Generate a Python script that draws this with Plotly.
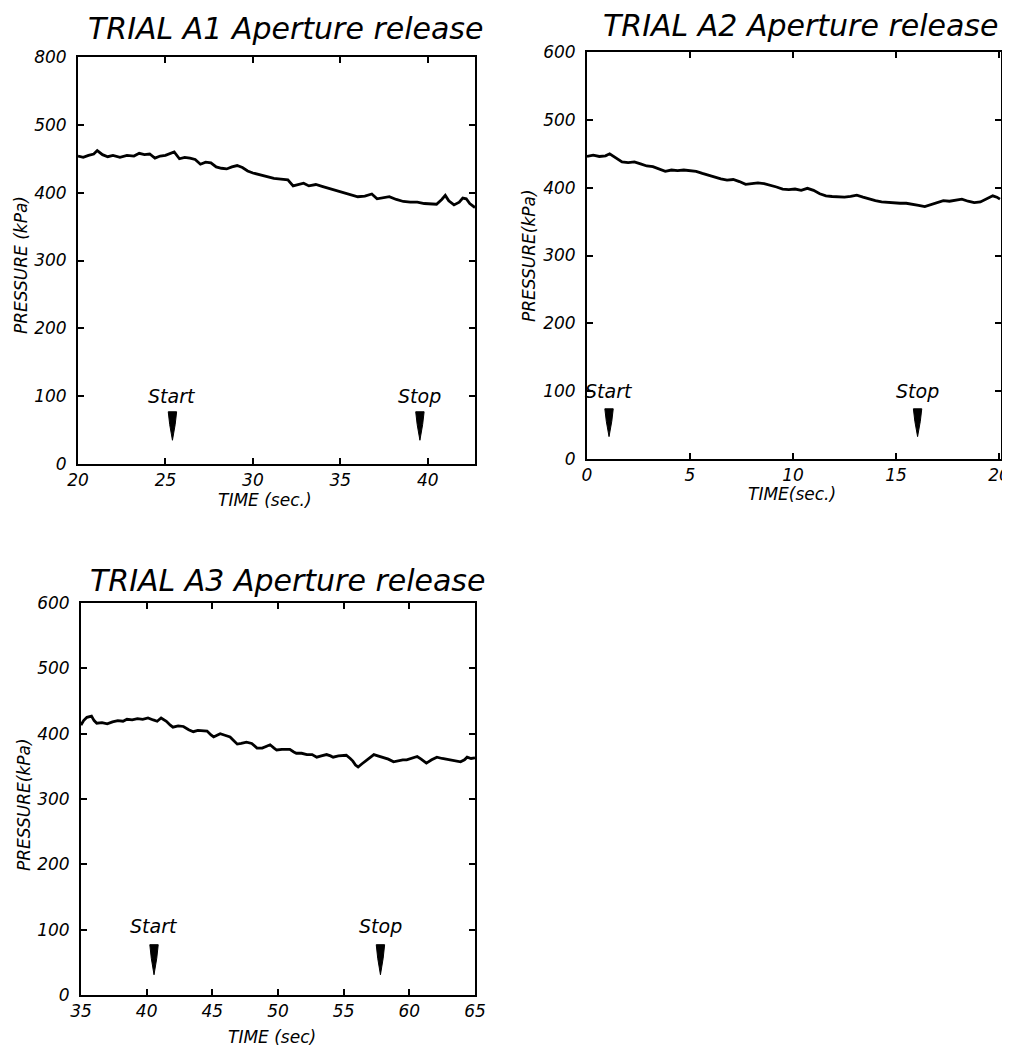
import plotly.graph_objects as go

# ---------------- data ----------------
a1_time = [20.0, 20.3, 20.6, 20.9, 21.1, 21.4, 21.7, 22.0, 22.4, 22.8, 23.2, 23.5, 23.8, 24.1, 24.4, 24.7,
           25.0, 25.3, 25.5, 25.8, 26.1, 26.4, 26.7, 27.0, 27.3, 27.6, 27.9, 28.2, 28.5, 28.8, 29.1, 29.4,
           29.7, 30.0, 30.4, 30.8, 31.2, 31.6, 32.0, 32.3, 32.6, 32.9, 33.2, 33.6, 34.0, 34.4, 34.8, 35.2,
           35.6, 36.0, 36.4, 36.8, 37.1, 37.4, 37.8, 38.2, 38.6, 39.0, 39.4, 39.8, 40.2, 40.5, 40.8, 41.0,
           41.2, 41.5, 41.8, 42.0, 42.2, 42.4, 42.7]
a1_pressure = [454, 452, 455, 457, 462, 456, 453, 455, 452, 455, 454, 458, 456, 457, 451, 454,
               455, 458, 460, 450, 452, 451, 449, 442, 445, 444, 438, 436, 435, 438, 440, 437,
               432, 429, 426, 424, 421, 420, 419, 410, 412, 414, 410, 412, 409, 406, 402, 400,
               397, 394, 395, 398, 391, 392, 394, 390, 387, 386, 386, 384, 384, 383, 390, 396,
               388, 382, 386, 392, 391, 384, 378]

a2_time = [0.0, 0.3, 0.6, 0.9, 1.1, 1.4, 1.7, 2.0, 2.3, 2.6, 2.9, 3.2, 3.5, 3.8, 4.1, 4.4, 4.7, 5.0,
           5.3, 5.6, 5.9, 6.2, 6.5, 6.8, 7.1, 7.4, 7.7, 8.0, 8.3, 8.6, 8.9, 9.2, 9.5, 9.8, 10.1, 10.4,
           10.7, 11.0, 11.3, 11.6, 11.9, 12.2, 12.5, 12.8, 13.1, 13.4, 13.7, 14.0, 14.3, 14.6, 14.9,
           15.2, 15.5, 15.8, 16.1, 16.4, 16.7, 17.0, 17.3, 17.6, 17.9, 18.2, 18.5, 18.8, 19.1, 19.4,
           19.7, 19.9, 20.05]
a2_pressure = [446, 448, 446, 447, 450, 444, 438, 437, 438, 435, 432, 431, 428, 424, 426, 425, 426, 425,
               424, 421, 418, 416, 413, 411, 412, 409, 405, 406, 407, 406, 404, 401, 398, 397, 398, 396,
               399, 396, 391, 388, 387, 386, 386, 387, 389, 386, 383, 381, 379, 378, 378,
               377, 377, 376, 374, 372, 375, 379, 381, 380, 381, 383, 380, 378, 379, 383,
               388, 386, 383]

a3_time = [35.0, 35.2, 35.45, 35.8, 36.0, 36.2, 36.6, 37.0, 37.4, 37.8, 38.2, 38.5, 38.9, 39.3, 39.7,
           40.1, 40.5, 40.8, 41.1, 41.5, 41.8, 42.0, 42.4, 42.8, 43.2, 43.55, 43.9, 44.3, 44.6, 44.9,
           45.1, 45.4, 45.6, 45.9, 46.35, 46.6, 46.9, 47.2, 47.6, 48.0, 48.4, 48.8, 49.1, 49.4, 49.7,
           49.9, 50.3, 50.6, 50.9, 51.2, 51.4, 51.8, 52.2, 52.6, 52.95, 53.3, 53.7, 54.0, 54.2, 54.6,
           55.0, 55.2, 55.5, 55.7, 55.9, 56.1, 56.4, 56.75, 57.0, 57.3, 57.6, 58.0, 58.4, 58.8, 59.2,
           59.5, 59.8, 60.2, 60.6, 60.9, 61.3, 61.7, 62.1, 62.5, 62.8, 63.1, 63.5, 63.9, 64.2, 64.4,
           64.7, 65.0]
a3_pressure = [413, 420, 425, 427, 420, 416, 417, 415, 418, 420, 419, 422, 421, 423, 422,
               424, 421, 419, 424, 419, 413, 410, 412, 411, 406, 403, 405, 404, 404, 398,
               395, 398, 400, 398, 395, 390, 384, 385, 387, 385, 378, 378, 380, 383, 378,
               375, 376, 376, 376, 372, 370, 370, 368, 368, 364, 366, 368, 366, 364, 366,
               366, 367, 362, 358, 352, 349, 354, 360, 364, 368, 366, 364, 361, 357, 359,
               360, 360, 363, 365, 361, 355, 360, 364, 362, 361, 360, 359, 357, 360, 364,
               362, 363]

a1_event_time = [25.4, 39.55]
a2_event_time = [1.07, 16.05]
a3_event_time = [40.56, 57.8]
event_labels = ["Start", "Stop"]

a1_xticks = [20, 25, 30, 35, 40]
a2_xticks = [0, 5, 10, 15, 20]
a3_xticks = [35, 40, 45, 50, 55, 60, 65]
y_tickvals = [0, 100, 200, 300, 400, 500, 600]
a1_ytext = ["0", "100", "200", "300", "400", "500", "800"]
a23_ytext = ["0", "100", "200", "300", "400", "500", "600"]

titles = ["TRIAL A1 Aperture release", "TRIAL A2 Aperture release", "TRIAL A3 Aperture release"]
xtitles = ["TIME (sec.)", "TIME(sec.)", "TIME (sec)"]
ytitles = ["PRESSURE (kPa)", "PRESSURE(kPa)", "PRESSURE(kPa)"]

# ---------------- layout helpers ----------------
W, H = 1010, 1063
OFF = 8  # page body margin in the browser
FONT = "DejaVu Sans"

def px(x):
    return (x - OFF) / W

def py(y):
    return 1 - (y - OFF) / H

panels = [
    dict(t=a1_time, p=a1_pressure, ev=a1_event_time, xr=[20, 42.7], xt=a1_xticks, yt=a1_ytext,
         box=(78, 475, 57, 464), title_xy=(285, 28), xtitle_xy=(265, 500), ytitle_xy=(21, 265),
         label_y=100, arrow=(77, 35)),
    dict(t=a2_time, p=a2_pressure, ev=a2_event_time, xr=[0, 20.1], xt=a2_xticks, yt=a23_ytext,
         box=(587, 1001, 52, 459), title_xy=(800, 26), xtitle_xy=(792, 494), ytitle_xy=(529, 256),
         label_y=100, arrow=(74, 33)),
    dict(t=a3_time, p=a3_pressure, ev=a3_event_time, xr=[35, 65], xt=a3_xticks, yt=a23_ytext,
         box=(81, 475, 603, 995), title_xy=(287, 580), xtitle_xy=(272, 1037), ytitle_xy=(24, 805),
         label_y=106, arrow=(77, 31)),
]

fig = go.Figure()
annotations = []

for i, pn in enumerate(panels, start=1):
    xa = "x" if i == 1 else f"x{i}"
    ya = "y" if i == 1 else f"y{i}"
    l, r, t, b = pn["box"]
    fig.add_trace(go.Scatter(x=pn["t"], y=pn["p"], mode="lines", xaxis=xa, yaxis=ya,
                             line=dict(color="black", width=2.8), showlegend=False, hoverinfo="skip"))
    # start / stop wedges
    span = pn["xr"][1] - pn["xr"][0]
    w = 4.2 * span / (r - l)
    top, tip = pn["arrow"]
    mid = top - 0.45 * (top - tip)
    for et, lab in zip(pn["ev"], event_labels):
        fig.add_trace(go.Scatter(
            x=[et - w, et + w, et + 0.65 * w, et, et - 0.65 * w, et - w],
            y=[top, top, mid, tip, mid, top],
            mode="lines", fill="toself", fillcolor="black", line=dict(color="black", width=1),
            xaxis=xa, yaxis=ya, showlegend=False, hoverinfo="skip"))
        annotations.append(dict(x=et, y=pn["label_y"], xref=xa, yref=ya, text=lab, showarrow=False,
                                font=dict(family=FONT, size=19, color="black", style="italic"),
                                xanchor="center", yanchor="middle"))
    axis_common = dict(showline=True, linecolor="black", linewidth=2, mirror="ticks", ticks="inside",
                       ticklen=6, tickwidth=1.5, tickcolor="black", showgrid=False, zeroline=False)
    tf = dict(family=FONT, size=17, color="black", style="italic")
    fig.update_layout(**{
        ("xaxis" if i == 1 else f"xaxis{i}"): dict(domain=[px(l), px(r)], range=pn["xr"],
                                                    tickvals=pn["xt"], anchor=ya, tickfont=tf,
                                                    ticklabelstandoff=0, **axis_common),
        ("yaxis" if i == 1 else f"yaxis{i}"): dict(domain=[py(b), py(t)], range=[0, 600],
                                                    tickvals=y_tickvals, ticktext=pn["yt"], anchor=xa,
                                                    tickfont=tf, ticklabelstandoff=6, **axis_common),
    })
    annotations.append(dict(x=px(pn["title_xy"][0]), y=py(pn["title_xy"][1]), xref="paper", yref="paper",
                            text=titles[i - 1], showarrow=False, xanchor="center", yanchor="middle",
                            font=dict(family=FONT, size=30, color="black", style="italic")))
    annotations.append(dict(x=px(pn["xtitle_xy"][0]), y=py(pn["xtitle_xy"][1]), xref="paper", yref="paper",
                            text=xtitles[i - 1], showarrow=False, xanchor="center", yanchor="middle",
                            font=dict(family=FONT, size=17, color="black", style="italic")))
    annotations.append(dict(x=px(pn["ytitle_xy"][0]), y=py(pn["ytitle_xy"][1]), xref="paper", yref="paper",
                            text=ytitles[i - 1], showarrow=False, xanchor="center", yanchor="middle",
                            textangle=-90,
                            font=dict(family=FONT, size=17, color="black", style="italic")))

fig.update_layout(width=W, height=H, margin=dict(l=0, r=0, t=0, b=0, pad=0, autoexpand=False),
                  autosize=False,
                  paper_bgcolor="white", plot_bgcolor="white", annotations=annotations,
                  font=dict(family=FONT, color="black"))

fig.write_html("out.html")
